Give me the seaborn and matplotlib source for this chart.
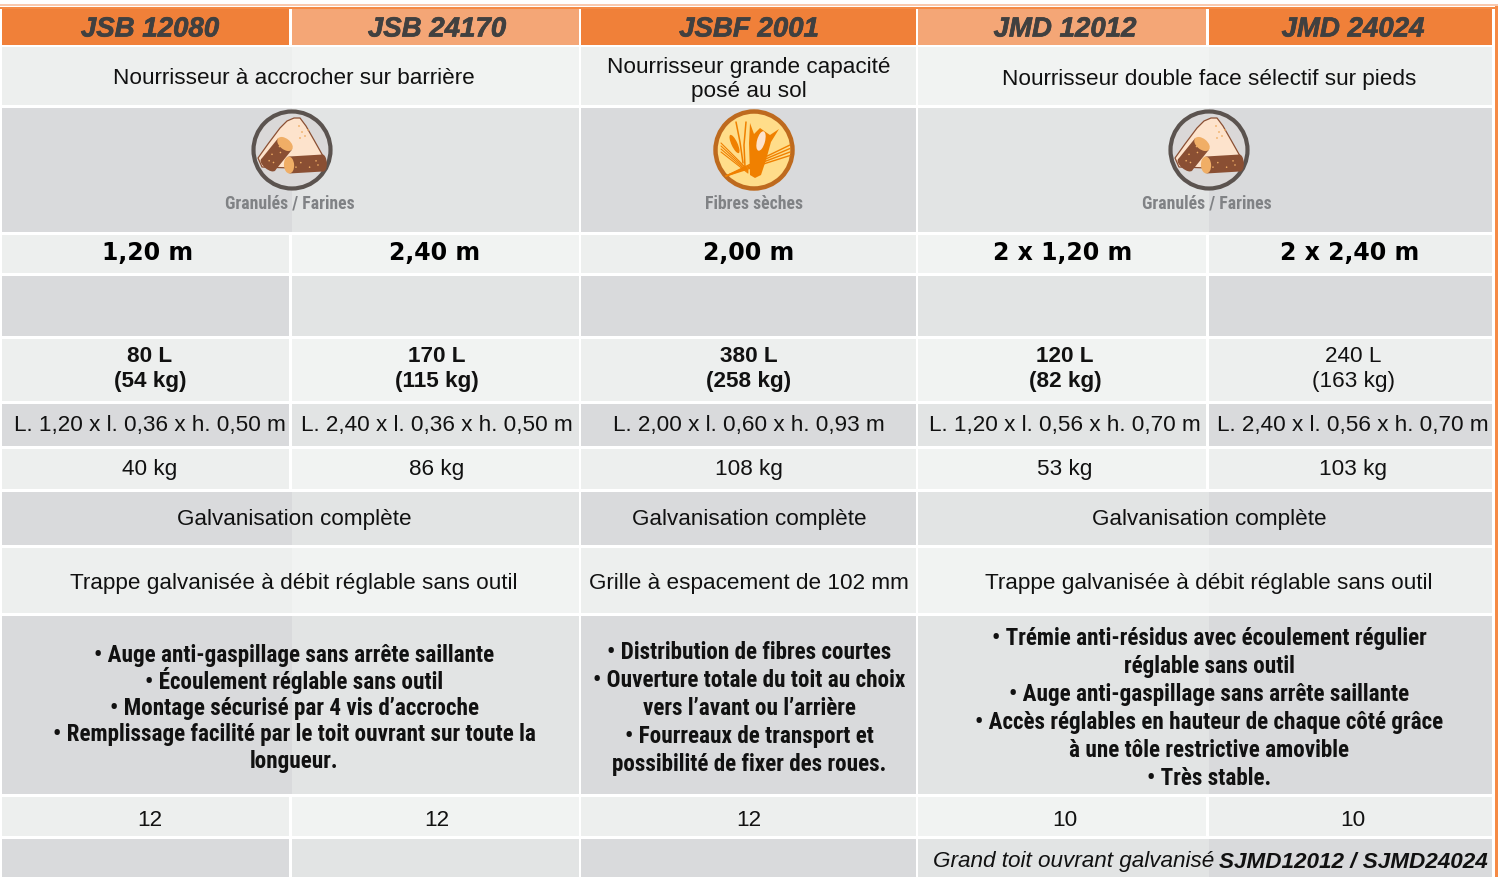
import numpy as np
import matplotlib
matplotlib.use("Agg")
import matplotlib.pyplot as plt
import matplotlib.patheffects as pe
from matplotlib.colors import ListedColormap
from matplotlib.patches import Circle, Polygon, Ellipse
import seaborn as sns

# ---------- content ----------
models = ["JSB 12080", "JSB 24170", "JSBF 2001", "JMD 12012", "JMD 24024"]
feeder_types = ["Nourrisseur à accrocher sur barrière",
                ["Nourrisseur grande capacité", "posé au sol"],
                "Nourrisseur double face sélectif sur pieds"]
feed_labels = ["Granulés / Farines", "Fibres sèches", "Granulés / Farines"]
lengths = ["1,20 m", "2,40 m", "2,00 m", "2 x 1,20 m", "2 x 2,40 m"]
volumes = [["80 L", "(54 kg)"], ["170 L", "(115 kg)"], ["380 L", "(258 kg)"],
           ["120 L", "(82 kg)"], ["240 L", "(163 kg)"]]
dimensions = ["L. 1,20 x l. 0,36 x h. 0,50 m", "L. 2,40 x l. 0,36 x h. 0,50 m",
              "L. 2,00 x l. 0,60 x h. 0,93 m", "L. 1,20 x l. 0,56 x h. 0,70 m",
              "L. 2,40 x l. 0,56 x h. 0,70 m"]
weights = ["40 kg", "86 kg", "108 kg", "53 kg", "103 kg"]
finish = "Galvanisation complète"
flow = ["Trappe galvanisée à débit réglable sans outil",
        "Grille à espacement de 102 mm",
        "Trappe galvanisée à débit réglable sans outil"]
features_a = ["• Auge anti-gaspillage sans arrête saillante",
              "• Écoulement réglable sans outil",
              "• Montage sécurisé par 4 vis d’accroche",
              "• Remplissage facilité par le toit ouvrant sur toute la",
              "longueur."]
features_b = ["• Distribution de fibres courtes",
              "• Ouverture totale du toit au choix",
              "vers l’avant ou l’arrière",
              "• Fourreaux de transport et",
              "possibilité de fixer des roues."]
features_c = ["• Trémie anti-résidus avec écoulement régulier",
              "réglable sans outil",
              "• Auge anti-gaspillage sans arrête saillante",
              "• Accès réglables en hauteur de chaque côté grâce",
              "à une tôle restrictive amovible",
              "• Très stable."]
per_pallet = ["12", "12", "12", "10", "10"]
option_plain = "Grand toit ouvrant galvanisé"
option_bold = "SJMD12012 / SJMD24024"

# ---------- layout (pixels) ----------
W, H = 1503, 877
col_edges = [(2, 289), (292, 579), (581, 916), (918, 1206), (1209, 1492)]
row_edges = [(9, 45), (47, 105), (108, 232), (235, 273), (276, 336), (339, 401),
             (404, 446), (449, 489), (492, 545), (548, 613), (616, 794),
             (797, 836), (839, 877)]
row_kind = ["h", "l", "g", "l", "g", "l", "g", "l", "g", "l", "g", "l", "g"]
merged = [(), (0, 3), (0, 3), (), (), (), (), (), (0, 3), (0, 3), (0, 3), (), (3,)]
col_cx = [150, 437, 749, 1065, 1353]
group_cx = [294, 749, 1209]

palette = ["#FFFFFF", "#F08039", "#F4A676", "#EDEFEE", "#F1F3F2",
           "#D9DADC", "#E2E4E4", "#F58A45", "#F9C9AE"]
tone = {"h": (1, 2), "l": (3, 4), "g": (5, 6)}

grid = np.zeros((H, W), dtype=int)
grid[4:6, 0:1498] = 8
grid[7:9, 0:1498] = 7
grid[6:877, 1495:1498] = 7
for r, (y0, y1) in enumerate(row_edges):
    for c, (x0, x1) in enumerate(col_edges):
        right = col_edges[c + 1][0] if c in merged[r] else x1
        grid[y0:y1, x0:right] = tone[row_kind[r]][c % 2]

# ---------- figure ----------
sns.set_theme(style="white")
BODY = "Liberation Sans"
COND = "Roboto Condensed"

fig = plt.figure(figsize=(W / 100, H / 100), dpi=100)
ax = fig.add_axes([0, 0, 1, 1])
sns.heatmap(grid, cmap=ListedColormap(palette), vmin=0, vmax=len(palette) - 1,
            cbar=False, xticklabels=False, yticklabels=False, ax=ax)
ax.set_xlim(0, W)
ax.set_ylim(H, 0)
ax.axis("off")


def put(x, base, s, size, family=BODY, weight="normal", style="normal",
        color="#111111", ha="center", **kw):
    return ax.text(x, base, s, fontsize=size, family=family, weight=weight,
                   style=style, color=color, ha=ha, va="baseline", **kw)


def lines(x, first, pitch, rows, **kw):
    for i, s in enumerate(rows):
        put(x, first + i * pitch, s, **kw)


BODY_SIZE = 16.2
for cx, s in zip(col_cx, models):
    put(cx, 36.5, s, 19.9, weight="bold", style="italic", color="#404040",
        path_effects=[pe.withStroke(linewidth=0.5, foreground="#404040")])

put(group_cx[0], 84.5, feeder_types[0], BODY_SIZE)
lines(group_cx[1], 72.5, 24, feeder_types[1], size=BODY_SIZE)
put(group_cx[2], 84.5, feeder_types[2], BODY_SIZE)

for cx, s in zip([290, 754, 1207], feed_labels):
    put(cx, 209, s, 12.8, family=COND, weight="bold", color="#808285")

for cx, s in zip([148, 435, 749, 1063, 1350], lengths):
    put(cx, 260.5, s, 17, family="DejaVu Sans", weight="bold", color="#000000")

for i, (cx, pair) in enumerate(zip(col_cx, volumes)):
    w = "normal" if i == 4 else "bold"
    lines(cx, 362.5, 24.5, pair, size=BODY_SIZE, weight=w)

for cx, s in zip(col_cx, dimensions):
    put(cx, 431.5, s, BODY_SIZE)
for cx, s in zip(col_cx, weights):
    put(cx, 475.5, s, BODY_SIZE)
for cx in group_cx:
    put(cx, 525.5, finish, BODY_SIZE)
for cx, s in zip(group_cx, flow):
    put(cx, 588.5, s, BODY_SIZE)

FEAT = dict(size=16.7, family=COND, weight="bold")
lines(group_cx[0], 662, 26.5, features_a, **FEAT)
lines(group_cx[1], 659, 28, features_b, **FEAT)
lines(group_cx[2], 645, 28, features_c, **FEAT)

for cx, s in zip(col_cx, per_pallet):
    put(cx, 826.5, s, BODY_SIZE)

put(1214, 867.5, option_plain, BODY_SIZE, style="italic", ha="right")
put(1488, 867.5, option_bold, BODY_SIZE, weight="bold", style="italic", ha="right")


# ---------- icons ----------
def cylinder(cx, cy, length, rad, angle, z):
    a = np.deg2rad(angle)
    d = np.array([np.cos(a), np.sin(a)])
    n = np.array([-d[1], d[0]])
    c = np.array([cx, cy])
    pts = [c - d * length / 2 + n * rad, c + d * length / 2 + n * rad,
           c + d * length / 2 - n * rad, c - d * length / 2 - n * rad]
    ax.add_patch(Polygon(pts, closed=True, fc="#8A4F33", ec="none", zorder=z))
    ax.add_patch(Ellipse(c - d * length / 2, rad * 0.9, rad * 2, angle=angle,
                         fc="#8A4F33", ec="none", zorder=z))
    ax.add_patch(Ellipse(c + d * length / 2, rad * 1.2, rad * 2, angle=angle,
                         fc="#F0AE66", ec="none", zorder=z + 0.1))
    for t, u in [(-.3, .3), (-.1, -.4), (.15, .2), (.3, -.3), (-.35, -.2)]:
        p = c + d * length * t + n * rad * u
        ax.add_patch(Circle(p, 0.8, fc="#F0AE66", ec="none", zorder=z + 0.1))


def pellets(cx, cy):
    ax.add_patch(Circle((cx, cy), 38.5, fc="#DAD8D8", ec="#5B534F", lw=3, zorder=3))
    mound = np.array([(-34, 8), (-24, -6), (-12, -22), (-5, -29), (2, -32), (8, -32),
                      (14, -24), (22, -10), (31, 6), (33, 13), (28, 18), (0, 18),
                      (-30, 17)])
    ax.add_patch(Polygon(mound + (cx, cy), closed=True, fc="#FDE3CC", ec="#8A4F33",
                         lw=0.9, joinstyle="round", zorder=4))
    for dx, dy in [(7, -24), (10, -18), (13, -14), (8, -12), (16, -20)]:
        ax.add_patch(Circle((cx + dx, cy + dy), 0.9, fc="#F0AE66", ec="none", zorder=5))
    cylinder(cx - 15.5, cy + 4.5, 27, 9, -51, 6)
    cylinder(cx + 14, cy + 14, 34, 8.5, 176.6, 7)


def fibres(cx, cy):
    ax.add_patch(Circle((cx, cy), 38.5, fc="#FFDD8A", ec="#BE6A1E", lw=3.2, zorder=3))
    orange = "#F08000"
    for o in (0, 1, 2, 3):
        ax.plot([cx - 33, cx - 6], [cy - 7 + o * 3, cy + 20 + o],
                color=orange, lw=0.8, zorder=4)
        ax.plot([cx - 28, cx + 36], [cy + 26, cy - 5 + o * 3.5],
                color=orange, lw=1.0, zorder=4)
    ax.plot([cx - 18, cx - 14, cx - 11], [cy - 28, cy - 8, cy + 13],
            color=orange, lw=1.1, zorder=4)
    ax.plot([cx - 8, cx - 10, cx - 9], [cy - 28, cy - 5, cy + 17],
            color=orange, lw=1.1, zorder=4)
    ax.add_patch(Ellipse((cx - 19.5, cy - 6), 6, 20, angle=-25, fc=orange, ec="none", zorder=4))
    corn = np.array([(-4, -27), (0, -16), (6, -22), (13, -17), (16, -15), (25, -21),
                     (17, -8), (12, 10), (7, 25), (1, 28), (-4, 25), (-5, -7)])
    ax.add_patch(Polygon(corn + (cx, cy), closed=True, fc=orange, ec="none",
                         joinstyle="round", zorder=5))
    ax.add_patch(Ellipse((cx + 7, cy - 9), 8, 20, angle=15, fc="#FDE3CC", ec="none", zorder=6))


pellets(292, 150)
fibres(754, 150)
pellets(1209, 150)

fig.savefig("out.png", dpi=100)
